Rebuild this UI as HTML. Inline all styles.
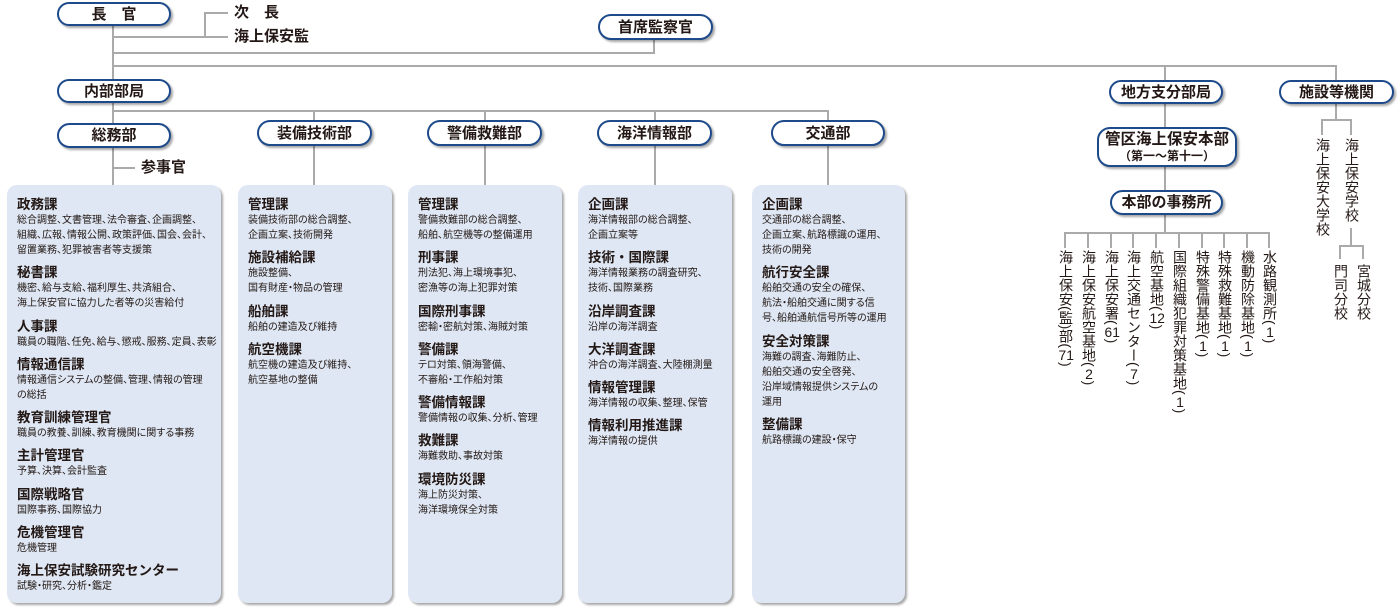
<!DOCTYPE html>
<html><head><meta charset="utf-8">
<style>
*{margin:0;padding:0;box-sizing:border-box}
body{width:1400px;height:609px;background:#fff;position:relative;overflow:hidden;font-family:"Liberation Sans","Noto Sans CJK JP",sans-serif;color:#231815}
.l{position:absolute;background:#aaa}
.p{position:absolute;background:#fff;border:2px solid #1d4a8a;border-radius:13px;box-shadow:2px 2px 2px rgba(0,0,0,.35);font-weight:bold;font-size:15px;display:flex;align-items:center;justify-content:center;line-height:1}
.t{position:absolute;font-weight:bold;font-size:15px;line-height:1}
.b{position:absolute;top:185px;height:418px;background:#dee7f3;border-radius:10px;box-shadow:2px 2px 2px rgba(0,0,0,.35);padding:11px 0 0 10px}
.b h{display:block;font-weight:bold;font-size:13.5px;line-height:17px}
.b p{font-size:10px;line-height:15px;margin-bottom:6.25px;white-space:nowrap;font-feature-settings:"palt"}
.v{position:absolute;writing-mode:vertical-rl;font-size:14px;line-height:15px;letter-spacing:0;top:250px}
.u{text-combine-upright:all}
</style></head><body>
<div class="l" style="left:112px;top:24px;width:2px;height:162px"></div>
<div class="l" style="left:204px;top:13px;width:2px;height:25px"></div>
<div class="l" style="left:204px;top:12px;width:24px;height:2px"></div>
<div class="l" style="left:113px;top:36px;width:115px;height:2px"></div>
<div class="l" style="left:113px;top:52px;width:542px;height:2px"></div>
<div class="l" style="left:653px;top:38px;width:2px;height:16px"></div>
<div class="l" style="left:113px;top:65px;width:1224px;height:2px"></div>
<div class="l" style="left:1164px;top:65px;width:2px;height:16px"></div>
<div class="l" style="left:1335px;top:65px;width:2px;height:16px"></div>
<div class="l" style="left:113px;top:110px;width:715px;height:2px"></div>
<div class="l" style="left:313px;top:110px;width:2px;height:76px"></div>
<div class="l" style="left:484px;top:110px;width:2px;height:76px"></div>
<div class="l" style="left:654px;top:110px;width:2px;height:76px"></div>
<div class="l" style="left:827px;top:110px;width:2px;height:76px"></div>
<div class="l" style="left:113px;top:167px;width:22px;height:2px"></div>
<div class="l" style="left:1164px;top:102px;width:2px;height:130px"></div>
<div class="l" style="left:1065px;top:232px;width:205px;height:2px"></div>
<div class="l" style="left:1064px;top:232px;width:2px;height:16px"></div>
<div class="l" style="left:1087px;top:232px;width:2px;height:16px"></div>
<div class="l" style="left:1110px;top:232px;width:2px;height:16px"></div>
<div class="l" style="left:1132px;top:232px;width:2px;height:16px"></div>
<div class="l" style="left:1155px;top:232px;width:2px;height:16px"></div>
<div class="l" style="left:1178px;top:232px;width:2px;height:16px"></div>
<div class="l" style="left:1201px;top:232px;width:2px;height:16px"></div>
<div class="l" style="left:1223px;top:232px;width:2px;height:16px"></div>
<div class="l" style="left:1246px;top:232px;width:2px;height:16px"></div>
<div class="l" style="left:1268px;top:232px;width:2px;height:16px"></div>
<div class="l" style="left:1335px;top:102px;width:2px;height:18px"></div>
<div class="l" style="left:1321px;top:119px;width:31px;height:2px"></div>
<div class="l" style="left:1321px;top:119px;width:2px;height:16px"></div>
<div class="l" style="left:1350px;top:119px;width:2px;height:16px"></div>
<div class="l" style="left:1350px;top:228px;width:2px;height:18px"></div>
<div class="l" style="left:1339px;top:245px;width:24px;height:2px"></div>
<div class="l" style="left:1339px;top:245px;width:2px;height:14px"></div>
<div class="l" style="left:1362px;top:245px;width:2px;height:14px"></div>

<div class="p" style="left:57px;top:2px;width:114px;height:24px">長　官</div>
<div class="p" style="left:598px;top:14px;width:115px;height:26px">首席監察官</div>
<div class="p" style="left:57px;top:79px;width:114px;height:24px">内部部局</div>
<div class="p" style="left:57px;top:123px;width:114px;height:25px">総務部</div>
<div class="p" style="left:257px;top:120px;width:115px;height:26px">装備技術部</div>
<div class="p" style="left:427px;top:120px;width:115px;height:26px">警備救難部</div>
<div class="p" style="left:597px;top:120px;width:115px;height:26px">海洋情報部</div>
<div class="p" style="left:771px;top:120px;width:114px;height:26px">交通部</div>
<div class="p" style="left:1109px;top:80px;width:114px;height:24px">地方支分部局</div>
<div class="p" style="left:1279px;top:80px;width:115px;height:24px">施設等機関</div>
<div class="p" style="left:1097px;top:127px;width:140px;height:40px;flex-direction:column;font-size:15.5px"><span>管区海上保安本部</span><span style="font-size:12px;margin-top:2px">（第一〜第十一）</span></div>
<div class="p" style="left:1110px;top:190px;width:113px;height:25px">本部の事務所</div>

<div class="t" style="left:234px;top:5px">次　長</div>
<div class="t" style="left:234px;top:29px">海上保安監</div>
<div class="t" style="left:141px;top:160px">参事官</div>

<div class="b" style="left:7px;width:214px">
<h>政務課</h><p>総合調整、文書管理、法令審査、企画調整、<br>組織、広報、情報公開、政策評価、国会、会計、<br>留置業務、犯罪被害者等支援策</p>
<h>秘書課</h><p>機密、給与支給、福利厚生、共済組合、<br>海上保安官に協力した者等の災害給付</p>
<h>人事課</h><p>職員の職階、任免、給与、懲戒、服務、定員、表彰</p>
<h>情報通信課</h><p>情報通信システムの整備、管理、情報の管理<br>の総括</p>
<h>教育訓練管理官</h><p>職員の教養、訓練、教育機関に関する事務</p>
<h>主計管理官</h><p>予算、決算、会計監査</p>
<h>国際戦略官</h><p>国際事務、国際協力</p>
<h>危機管理官</h><p>危機管理</p>
<h>海上保安試験研究センター</h><p>試験・研究、分析・鑑定</p>
</div>
<div class="b" style="left:238px;width:154px">
<h>管理課</h><p>装備技術部の総合調整、<br>企画立案、技術開発</p>
<h>施設補給課</h><p>施設整備、<br>国有財産・物品の管理</p>
<h>船舶課</h><p>船舶の建造及び維持</p>
<h>航空機課</h><p>航空機の建造及び維持、<br>航空基地の整備</p>
</div>
<div class="b" style="left:408px;width:154px">
<h>管理課</h><p>警備救難部の総合調整、<br>船舶、航空機等の整備運用</p>
<h>刑事課</h><p>刑法犯、海上環境事犯、<br>密漁等の海上犯罪対策</p>
<h>国際刑事課</h><p>密輸・密航対策、海賊対策</p>
<h>警備課</h><p>テロ対策、領海警備、<br>不審船・工作船対策</p>
<h>警備情報課</h><p>警備情報の収集、分析、管理</p>
<h>救難課</h><p>海難救助、事故対策</p>
<h>環境防災課</h><p>海上防災対策、<br>海洋環境保全対策</p>
</div>
<div class="b" style="left:578px;width:154px">
<h>企画課</h><p>海洋情報部の総合調整、<br>企画立案等</p>
<h>技術・国際課</h><p>海洋情報業務の調査研究、<br>技術、国際業務</p>
<h>沿岸調査課</h><p>沿岸の海洋調査</p>
<h>大洋調査課</h><p>沖合の海洋調査、大陸棚測量</p>
<h>情報管理課</h><p>海洋情報の収集、整理、保管</p>
<h>情報利用推進課</h><p>海洋情報の提供</p>
</div>
<div class="b" style="left:752px;width:153px">
<h>企画課</h><p>交通部の総合調整、<br>企画立案、航路標識の運用、<br>技術の開発</p>
<h>航行安全課</h><p>船舶交通の安全の確保、<br>航法・船舶交通に関する信<br>号、船舶通航信号所等の運用</p>
<h>安全対策課</h><p>海難の調査、海難防止、<br>船舶交通の安全啓発、<br>沿岸域情報提供システムの<br>運用</p>
<h>整備課</h><p>航路標識の建設・保守</p>
</div>

<div class="v" style="left:1058px">海上保安(監)部(<span class="u">71</span>)</div>
<div class="v" style="left:1081px">海上保安航空基地(<span class="u">2</span>)</div>
<div class="v" style="left:1104px">海上保安署(<span class="u">61</span>)</div>
<div class="v" style="left:1126px">海上交通センター(<span class="u">7</span>)</div>
<div class="v" style="left:1149px">航空基地(<span class="u">12</span>)</div>
<div class="v" style="left:1172px">国際組織犯罪対策基地(<span class="u">1</span>)</div>
<div class="v" style="left:1195px">特殊警備基地(<span class="u">1</span>)</div>
<div class="v" style="left:1217px">特殊救難基地(<span class="u">1</span>)</div>
<div class="v" style="left:1240px">機動防除基地(<span class="u">1</span>)</div>
<div class="v" style="left:1262px">水路観測所(<span class="u">1</span>)</div>
<div class="v" style="left:1315px;top:138px">海上保安大学校</div>
<div class="v" style="left:1344px;top:138px">海上保安学校</div>
<div class="v" style="left:1333px;top:264px">門司分校</div>
<div class="v" style="left:1356px;top:264px">宮城分校</div>
</body></html>
